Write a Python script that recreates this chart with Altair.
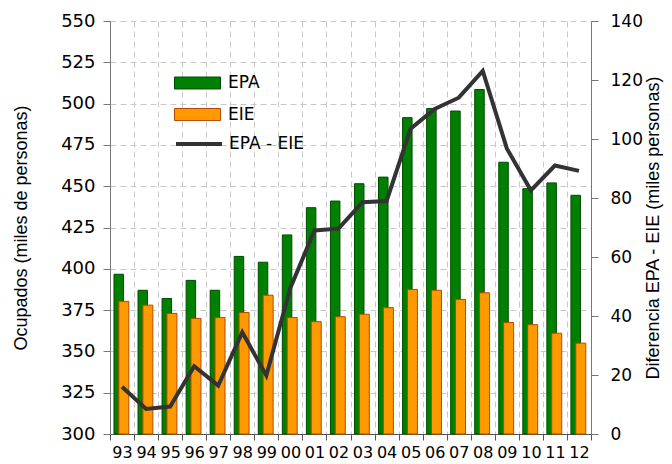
import altair as alt
import pandas as pd

years = ["93", "94", "95", "96", "97", "98", "99", "00", "01", "02",
         "03", "04", "05", "06", "07", "08", "09", "10", "11", "12"]
epa = [396.7, 387.0, 382.0, 393.0, 387.0, 407.5, 404.0, 420.5, 437.0, 441.0,
       451.5, 455.5, 491.5, 497.0, 495.5, 508.5, 464.5, 448.5, 452.0, 444.5]
eie = [380.3, 378.0, 373.0, 370.0, 370.5, 373.5, 384.0, 370.5, 368.0, 371.0,
       372.5, 376.5, 387.5, 387.0, 381.5, 385.5, 367.5, 366.2, 361.0, 355.0]
diff = [16.0, 8.5, 9.3, 23.0, 16.4, 34.5, 19.8, 49.5, 69.0, 69.6,
        78.6, 79.0, 103.5, 110.2, 114.0, 123.1, 96.8, 82.6, 91.0, 89.2]

series_names = ["EPA", "EIE"]
fill_colors = ["#008000", "#ff9900"]
stroke_colors = ["#004a00", "#b84800"]
line_name = "EPA - EIE"

bars_df = pd.DataFrame({
    "year": years * 2,
    "series": ["EPA"] * len(years) + ["EIE"] * len(years),
    "value": epa + eie,
})
line_df = pd.DataFrame({"year": years, "diff": diff, "name": [line_name] * len(years)})

FONT = "DejaVu Sans"
TFONT = "Liberation Sans"

x_enc = alt.X(
    "year:N", sort=years,
    scale=alt.Scale(paddingInner=0, paddingOuter=0),
    axis=alt.Axis(
        title=None, labelAngle=0, tickBand="extent", tickSize=6,
        labelPadding=4, labelFont=FONT, labelFontSize=16, labelColor="black",
        domainColor="#555555", tickColor="#555555", grid=True,
        gridDash=[6, 4], gridColor="#c8c8c8",
    ),
)

legend_bars = alt.Legend(
    title=None, orient="none", legendX=64, legendY=52,
    symbolType="M-1,-0.26H1V0.26H-1Z", symbolSize=2116, symbolStrokeWidth=1,
    clipHeight=20, rowPadding=11.5, padding=0,
    labelFont=FONT, labelFontSize=17, labelColor="black", labelOffset=7,
)

fill_enc = alt.Fill("series:N", scale=alt.Scale(domain=series_names, range=fill_colors),
                    legend=legend_bars)
stroke_enc = alt.Stroke("series:N", scale=alt.Scale(domain=series_names, range=stroke_colors),
                        legend=legend_bars)

y_left = alt.Y(
    "value:Q",
    scale=alt.Scale(domain=[300, 550], nice=False, zero=False),
    axis=alt.Axis(
        values=list(range(300, 551, 25)), title="Ocupados (miles de personas)",
        titleFont=TFONT, titleFontSize=18, titleFontWeight="normal", titleColor="black",
        titleX=-89, titleY=206.5, titleAngle=-90, titleAlign="center", titleBaseline="middle",
        labelFont=FONT, labelFontSize=18, labelColor="black", labelPadding=8,
        tickSize=7, tickColor="#777777", domainColor="#777777",
        grid=True, gridDash=[6, 4], gridColor="#c8c8c8",
    ),
)

green = alt.Chart(bars_df).transform_filter(alt.datum.series == "EPA").mark_bar(
    width=9.5, xOffset=-3.3, strokeWidth=1
).encode(x=x_enc, y=y_left, y2=alt.Y2(datum=300), fill=fill_enc, stroke=stroke_enc)

orange = alt.Chart(bars_df).transform_filter(alt.datum.series == "EIE").mark_bar(
    width=10, xOffset=1.8, strokeWidth=1
).encode(x=x_enc, y=y_left, y2=alt.Y2(datum=300), fill=fill_enc, stroke=stroke_enc)

line = alt.Chart(line_df).mark_line(strokeWidth=4, strokeJoin="miter").encode(
    x=x_enc,
    y=alt.Y(
        "diff:Q",
        scale=alt.Scale(domain=[0, 140], nice=False),
        axis=alt.Axis(
            orient="right", values=list(range(0, 141, 20)),
            title="Diferencia EPA - EIE (miles personas)",
            titleFont=TFONT, titleFontSize=18, titleFontWeight="normal", titleColor="black",
            titleX=62, titleY=206.5, titleAngle=-90, titleAlign="center", titleBaseline="middle",
            labelFont=FONT, labelFontSize=17, labelColor="black", labelPadding=12,
            tickSize=7, tickColor="#777777", domainColor="#777777", grid=False,
        ),
    ),
    color=alt.Color(
        "name:N",
        scale=alt.Scale(domain=[line_name], range=["#333333"]),
        legend=alt.Legend(
            title=None, orient="none", legendX=64, legendY=113,
            symbolType="stroke", symbolSize=2116, symbolStrokeWidth=4,
            clipHeight=20, padding=0,
            labelFont=FONT, labelFontSize=17, labelColor="black", labelOffset=5,
        ),
    ),
)

chart = alt.layer(alt.layer(green, orange), line).resolve_scale(
    y="independent"
).properties(
    width=481, height=413,
    autosize=alt.AutoSizeParams(type="none"),
    padding={"left": 102, "top": 13, "right": 73, "bottom": 30},
).configure_view(stroke=None)

chart.save("out.html", embed_options={"renderer": "svg", "actions": False})
